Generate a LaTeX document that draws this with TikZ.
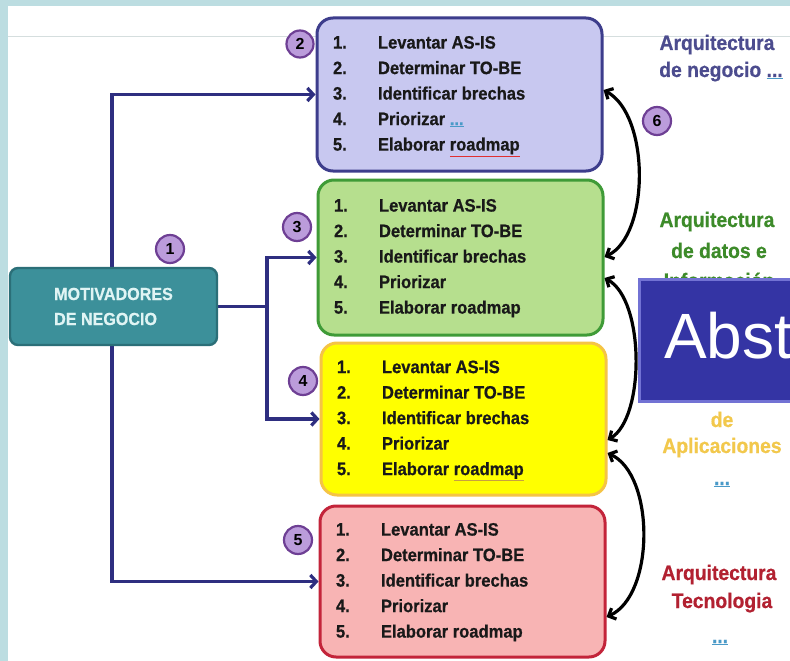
\documentclass[tikz,border=0pt]{standalone}
\usepackage{fontspec}
\setmainfont{Liberation Sans}
\newfontfamily\nar[FakeStretch=0.92]{Liberation Sans}
\newfontfamily\narheavy[FakeStretch=0.92,FakeBold=0.6]{Liberation Sans}
\usetikzlibrary{arrows.meta}
\definecolor{bgteal}{HTML}{BCDDE1}
\definecolor{gridline}{HTML}{D5DEDE}
\definecolor{navy}{HTML}{2E2E80}
\definecolor{bafill}{HTML}{C8C8F0}
\definecolor{badraw}{HTML}{3D3D8C}
\definecolor{bbfill}{HTML}{B6DF8E}
\definecolor{bbdraw}{HTML}{3F9B37}
\definecolor{bcfill}{HTML}{FFFF00}
\definecolor{bcdraw}{HTML}{F5C445}
\definecolor{bdfill}{HTML}{F8B4B4}
\definecolor{bddraw}{HTML}{C3243A}
\definecolor{motfill}{HTML}{3C909A}
\definecolor{motdraw}{HTML}{2B6F78}
\definecolor{mottext}{HTML}{E0F4F4}
\definecolor{numfill}{HTML}{BB9CDB}
\definecolor{numdraw}{HTML}{6E3F94}
\definecolor{tacol}{HTML}{4C4C8E}
\definecolor{tbcol}{HTML}{3D8B2A}
\definecolor{tccol}{HTML}{F2C84C}
\definecolor{tdcol}{HTML}{B22131}
\definecolor{linkblue}{HTML}{4A9AC8}
\definecolor{spellred}{HTML}{E03030}
\definecolor{spellgold}{HTML}{C8A040}
\definecolor{abstfill}{HTML}{3434A4}
\definecolor{abstdraw}{HTML}{7272D4}
\pgfdeclarelayer{bg}
\pgfsetlayers{bg,main}
\newcommand\ulc[2]{\begingroup\colorlet{curtxt}{.}\color{#1}\underline{\color{curtxt}#2}\endgroup}
\newcommand\steplist[5]{\begin{tabular}{@{}p{45pt}@{}p{208pt}@{}}1.&#1\\2.&#2\\3.&#3\\4.&#4\\5.&#5\end{tabular}}
\begin{document}
\begin{tikzpicture}[x=1pt,y=-1pt,
  stepbox/.style={rounded corners=16pt, line width=3pt, minimum width=285pt,
    inner xsep=16pt, inner ysep=2pt, text=black!90,
    font=\narheavy\bfseries\fontsize{18}{25.5}\selectfont},
  motbox/.style={rounded corners=8pt, fill=motfill, draw=motdraw, line width=2.4pt,
    minimum width=207pt, minimum height=77pt, align=left, text=mottext,
    font=\narheavy\bfseries\fontsize{17.5}{25}\selectfont},
  num/.style={circle, fill=numfill, draw=numdraw, line width=2.2pt, minimum size=28pt,
    inner sep=0pt, font=\bfseries\fontsize{16}{16}\selectfont},
  rtext/.style={anchor=base, inner sep=0pt, font=\narheavy\bfseries\fontsize{21}{25}\selectfont},
  navyarrow/.style={draw=navy, line width=3.2pt, -{Straight Barb[length=6pt,width=13pt]}},
  curvearrow/.style={draw=black, line width=3.2pt,
    {Straight Barb[length=6pt,width=12pt]}-{Straight Barb[length=6pt,width=12pt]}}
]
\useasboundingbox (0,0) rectangle (790,661);

% main nodes
\node[motbox] (mot) at (113.5,306.5) {MOTIVADORES\\DE NEGOCIO};

\node[stepbox, fill=bafill, draw=badraw, minimum height=153pt] (box1) at (459.5,94.5)
  {\steplist{Levantar AS-IS}{Determinar TO-BE}{Identificar brechas}{Priorizar \ulc{linkblue}{{\color{linkblue}...}}}{Elaborar \ulc{spellred}{roadmap}}};
\node[stepbox, fill=bbfill, draw=bbdraw, minimum height=155pt] (box2) at (460.5,257.5)
  {\steplist{Levantar AS-IS}{Determinar TO-BE}{Identificar brechas}{Priorizar}{Elaborar roadmap}};
\node[stepbox, fill=bcfill, draw=bcdraw, minimum height=152pt] (box3) at (463.5,419)
  {\steplist{Levantar AS-IS}{Determinar TO-BE}{Identificar brechas}{Priorizar}{Elaborar \ulc{spellgold}{roadmap}}};
\node[stepbox, fill=bdfill, draw=bddraw, minimum height=151pt] (box4) at (462.5,581.5)
  {\steplist{Levantar AS-IS}{Determinar TO-BE}{Identificar brechas}{Priorizar}{Elaborar roadmap}};

% right column texts
\node[rtext, text=tacol] (ta1) at (717,50) {Arquitectura};
\node[rtext, text=tacol] (ta2) at (721,77) {de negocio \ulc{linkblue}{...}};
\node[rtext, text=tbcol] (tb1) at (717,227) {Arquitectura};
\node[rtext, text=tbcol] (tb2) at (719,258) {de datos e};
\node[rtext, text=tbcol] (tb3) at (719,288) {Información};
\node[rtext, text=tccol] (tc1) at (722,427) {de};
\node[rtext, text=tccol] (tc2) at (722,453) {Aplicaciones};
\node[rtext, text=linkblue] (tc3) at (722,485) {\underline{...}};
\node[rtext, text=tdcol] (td1) at (719,580) {Arquitectura};
\node[rtext, text=tdcol] (td2) at (722,608) {Tecnologia};
\node[rtext, text=linkblue] (td3) at (720,643) {\underline{...}};

% Abst banner
\begin{scope}
\clip (0,0) rectangle (790,661);
\node[anchor=north west, fill=abstfill, draw=abstdraw, line width=3pt,
  minimum width=170pt, minimum height=122pt, inner sep=0pt] (abst) at (638,278) {};
\node[anchor=base west, inner sep=0pt, text=white, font=\fontsize{64}{64}\selectfont] (absttext) at (664,358) {Abst};
\end{scope}

% numbered circles
\node[num] (n1) at (170,249) {1};
\node[num, minimum size=27pt] (n2) at (300,44) {2};
\node[num] (n3) at (297,227) {3};
\node[num] (n4) at (303,381) {4};
\node[num] (n5) at (298,540) {5};
\node[num] (n6) at (657,121) {6};

% coordinates for connectors
\coordinate (jl) at (112,306.5);
\coordinate (jr) at (267,306.5);

\begin{pgfonlayer}{bg}
  \fill[bgteal] (0,0) rectangle (790,661);
  \fill[white] (8,6) rectangle (790,661);
  \draw[gridline, line width=1pt] (8,37) -- (790,37);
  \draw[navyarrow] (jl) |- (box1.west);
  \draw[navyarrow] (jl) |- (box4.west);
  \draw[draw=navy, line width=3.2pt] (mot.east) -- (jr);
  \draw[navyarrow] (jr) |- (box2.west);
  \draw[navyarrow] (jr) |- (box3.west);
\end{pgfonlayer}

% curved double arrows between boxes
\draw[curvearrow] (box1.east |- 0,90) .. controls (650,115) and (650,235) .. (box2.east |- 0,257);
\draw[curvearrow] (box2.east |- 0,278) .. controls (645,300) and (645,418) .. (box3.east |- 0,440);
\draw[curvearrow] (box3.east |- 0,453) .. controls (655,475) and (655,595) .. (box4.east |- 0,617);
\end{tikzpicture}
\end{document}
